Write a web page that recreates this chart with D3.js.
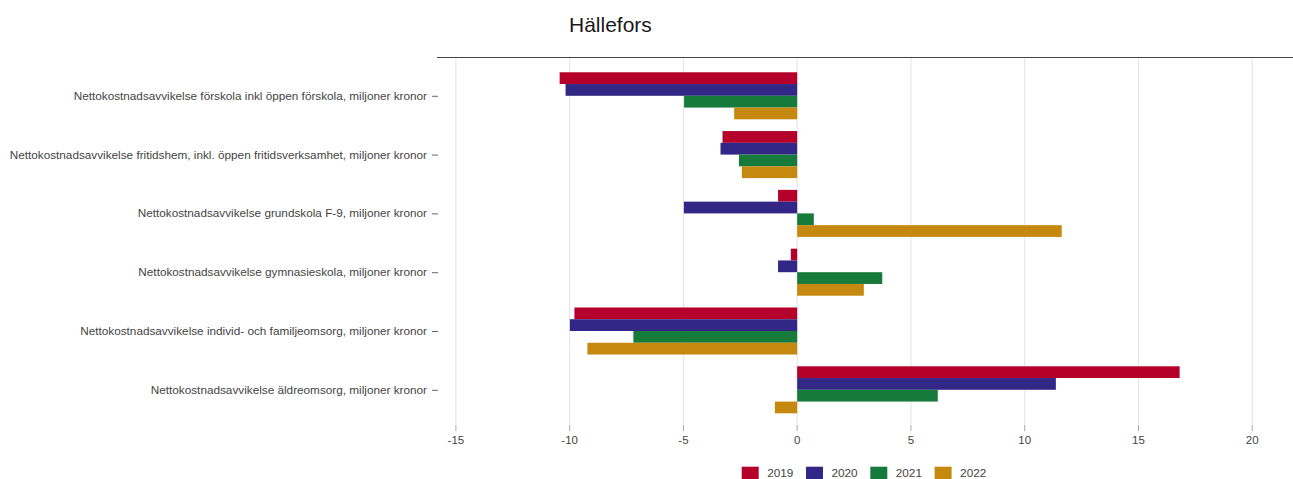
<!DOCTYPE html>
<html>
<head>
<meta charset="utf-8">
<script src="https://cdn.jsdelivr.net/npm/d3@7"></script>
<style>
  body { margin: 0; background: #fff; }
  svg { display: block; font-family: "Liberation Sans", Arial, sans-serif; }
</style>
</head>
<body>
<svg id="chart"></svg>
<script>
// categories (top to bottom)
const categories = [
  "Nettokostnadsavvikelse förskola inkl öppen förskola, miljoner kronor",
  "Nettokostnadsavvikelse fritidshem, inkl. öppen fritidsverksamhet, miljoner kronor",
  "Nettokostnadsavvikelse grundskola F-9, miljoner kronor",
  "Nettokostnadsavvikelse gymnasieskola, miljoner kronor",
  "Nettokostnadsavvikelse individ- och familjeomsorg, miljoner kronor",
  "Nettokostnadsavvikelse äldreomsorg, miljoner kronor"
];
const years = ["2019", "2020", "2021", "2022"];

// values per year, same order as categories
const v2019 = [-10.44, -3.28, -0.84, -0.28, -9.79, 16.81];
const v2020 = [-10.18, -3.37, -4.98, -0.84, -9.99, 11.37];
const v2021 = [-4.97, -2.56, 0.73, 3.74, -7.20, 6.18];
const v2022 = [-2.77, -2.43, 11.63, 2.93, -9.22, -0.98];

const xTicks = [-15, -10, -5, 0, 5, 10, 15, 20];
const colors = ["#b4002a", "#322787", "#157a3a", "#c6890f"];

const series = [v2019, v2020, v2021, v2022];
const width = 1293, height = 479;

const svg = d3.select("#chart").attr("width", width).attr("height", height);

// scales
const x = d3.scaleLinear().domain([-15, 20]).range([455.9, 1252.2]);
const y = d3.scaleBand().domain(categories).range([66.4, 419.2])
  .paddingInner(0.2).paddingOuter(0.1);
const yInner = d3.scaleBand().domain(years).range([0, y.bandwidth()]);

// title
svg.append("text").attr("x", 569).attr("y", 32)
  .attr("font-size", 21).attr("fill", "#1a1a1a").text("Hällefors");

// gridlines + bottom ticks
const grid = svg.append("g");
grid.selectAll("line.grid").data(xTicks).join("line").attr("class", "grid")
  .attr("x1", d => x(d)).attr("x2", d => x(d))
  .attr("y1", 58).attr("y2", 425)
  .attr("stroke", "#e3e3e3").attr("stroke-width", 1);
grid.selectAll("line.tick").data(xTicks).join("line").attr("class", "tick")
  .attr("x1", d => x(d)).attr("x2", d => x(d))
  .attr("y1", 425).attr("y2", 431)
  .attr("stroke", "#aaa").attr("stroke-width", 1);
grid.selectAll("text").data(xTicks).join("text")
  .attr("x", d => x(d)).attr("y", 444)
  .attr("text-anchor", "middle").attr("font-size", 11.5).attr("fill", "#444")
  .text(d => d);

// top line
svg.append("line").attr("x1", 437).attr("x2", width)
  .attr("y1", 57.5).attr("y2", 57.5)
  .attr("stroke", "#444").attr("stroke-width", 1.2);

// bars
const groups = svg.append("g").selectAll("g").data(categories).join("g")
  .attr("transform", d => `translate(0,${y(d)})`);
groups.selectAll("rect")
  .data((c, i) => years.map((yr, j) => ({ yr, j, v: series[j][i] })))
  .join("rect")
  .attr("x", d => x(Math.min(0, d.v)))
  .attr("width", d => Math.abs(x(d.v) - x(0)))
  .attr("y", d => yInner(d.yr))
  .attr("height", yInner.bandwidth())
  .attr("fill", d => colors[d.j]);

// y labels with tick dashes
const yl = svg.append("g");
yl.selectAll("text").data(categories).join("text")
  .attr("x", 427).attr("y", d => y(d) + y.bandwidth() / 2 + 4)
  .attr("text-anchor", "end").attr("font-size", 11.75).attr("fill", "#444")
  .text(d => d);
yl.selectAll("line").data(categories).join("line")
  .attr("x1", 432).attr("x2", 438)
  .attr("y1", d => y(d) + y.bandwidth() / 2 + 0.5)
  .attr("y2", d => y(d) + y.bandwidth() / 2 + 0.5)
  .attr("stroke", "#666");

// legend
const legend = svg.append("g").selectAll("g").data(years).join("g")
  .attr("transform", (d, i) => `translate(${741.7 + i * 64.3},466.7)`);
legend.append("rect").attr("width", 17).attr("height", 17)
  .attr("fill", (d, i) => colors[i]);
legend.append("text").attr("x", 25.5).attr("y", 10.5)
  .attr("font-size", 11.75).attr("fill", "#444").text(d => d);
</script>
</body>
</html>
